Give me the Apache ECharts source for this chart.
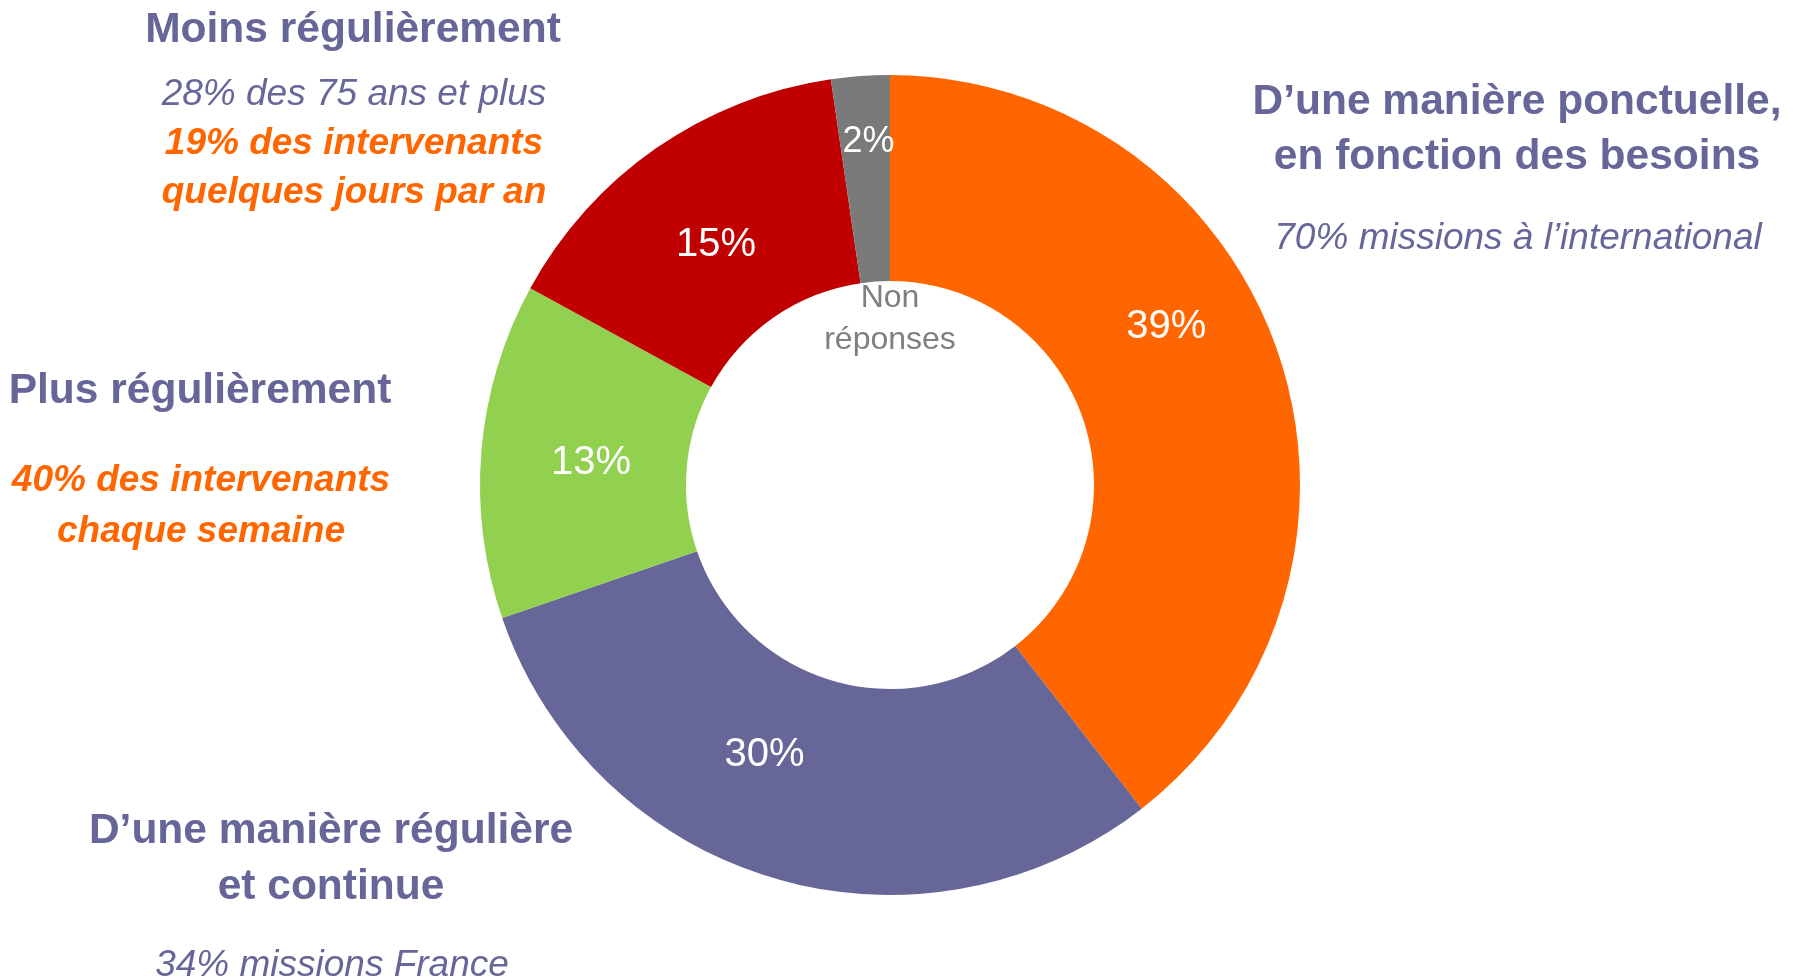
<!DOCTYPE html>
<html>
<head>
<meta charset="utf-8">
<script src="https://cdn.jsdelivr.net/npm/echarts@6/dist/echarts.min.js"></script>
<style>
  html, body { margin: 0; padding: 0; background: #fff; }
  #chart { width: 1802px; height: 980px; }
</style>
</head>
<body>
<div id="chart"></div>
<script>
// slices, clockwise from 12 o'clock (sizes read from the ring, labels rounded)
const categories = [
  'D’une manière ponctuelle, en fonction des besoins',
  'D’une manière régulière et continue',
  'Plus régulièrement',
  'Moins régulièrement',
  'Non réponses'
]
const shares = [39.4, 30.2, 13.2, 14.7, 2.3]
const sliceColors = ['#FF6600', '#666699', '#92D050', '#C00000', '#7A7A7A']

// annotation text
const notePonctuelle = ['D’une manière ponctuelle,', 'en fonction des besoins']
const notePonctuelleSub = '70% missions à l’international'
const noteReguliere = ['D’une manière régulière', 'et continue']
const noteReguliereSub = '34% missions France'
const notePlus = 'Plus régulièrement'
const notePlusSub = ['40% des intervenants', 'chaque semaine']
const noteMoins = 'Moins régulièrement'
const noteMoinsSub = '28% des 75 ans et plus'
const noteMoinsSub2 = ['19% des intervenants', 'quelques jours par an']
const noteCenter = ['Non', 'réponses']

const FONT = '"Liberation Sans", Arial, Helvetica, sans-serif'
const PURPLE = '#666699'
const ORANGE = '#FF6600'

// nudges so the percent labels sit where the original put them
const labelNudge = [[-17, -57], [-37, -27], [10, 4], [3, 14], [1, -34]]

function txt(text, x, y, opts) {
  return {
    type: 'text',
    x, y,
    style: Object.assign({
      text,
      align: 'center',
      verticalAlign: 'middle',
      fontFamily: FONT,
      fontSize: 42,
      fill: PURPLE
    }, opts)
  }
}

const bold = { fontWeight: 'bold', fontSize: 42.5, fill: PURPLE }
const italic = { fontStyle: 'italic', fontSize: 37, fill: PURPLE }
const boldItalicOrange = { fontStyle: 'italic', fontWeight: 'bold', fontSize: 37, fill: ORANGE }

const graphics = [
  txt(noteMoins, 353, 30, bold),
  txt(noteMoinsSub, 354, 95, italic),
  txt(noteMoinsSub2[0], 354, 144, boldItalicOrange),
  txt(noteMoinsSub2[1], 354, 193, boldItalicOrange),

  txt(notePonctuelle[0], 1517, 102, bold),
  txt(notePonctuelle[1], 1517, 157, bold),
  txt(notePonctuelleSub, 1518, 239, italic),

  txt(notePlus, 200, 391, bold),
  txt(notePlusSub[0], 201, 481, boldItalicOrange),
  txt(notePlusSub[1], 201, 532, boldItalicOrange),

  txt(noteReguliere[0], 331, 831, bold),
  txt(noteReguliere[1], 331, 887, bold),
  txt(noteReguliereSub, 332, 966, italic),

  txt(noteCenter[0], 890, 298, { fontSize: 32, fill: '#7F7F7F' }),
  txt(noteCenter[1], 890, 340, { fontSize: 32, fill: '#7F7F7F' })
]

const chart = echarts.init(document.getElementById('chart'), null, { renderer: 'canvas' })

chart.setOption({
  animation: false,
  backgroundColor: '#fff',
  graphic: graphics,
  series: [
    {
      type: 'pie',
      center: [890, 485],
      radius: [204, 410],
      startAngle: 90,
      clockwise: true,
      avoidLabelOverlap: false,
      label: {
        show: true,
        position: 'inside',
        formatter: (p) => Math.round(p.value) + '%',
        color: '#fff',
        fontFamily: FONT,
        fontSize: 40
      },
      labelLine: { show: false },
      emphasis: { disabled: true },
      labelLayout: (p) => ({ dx: labelNudge[p.dataIndex][0], dy: labelNudge[p.dataIndex][1] }),
      data: categories.map((name, i) => ({
        name,
        value: shares[i],
        itemStyle: { color: sliceColors[i] },
        label: i === 4 ? { fontSize: 36 } : undefined
      }))
    }
  ]
})
</script>
</body>
</html>
